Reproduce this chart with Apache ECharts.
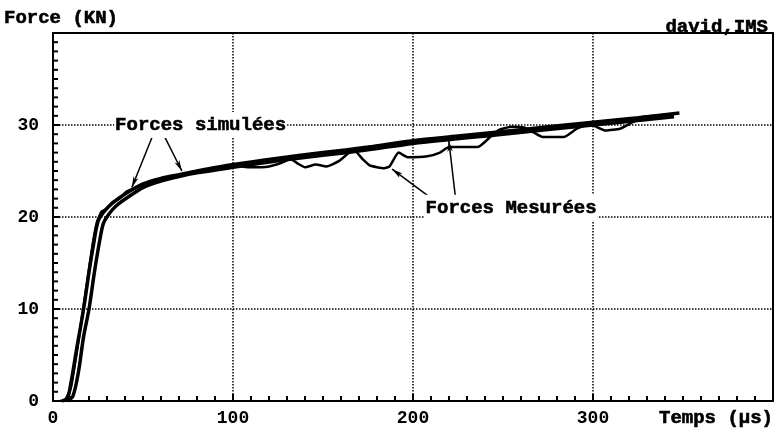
<!DOCTYPE html>
<html>
<head>
<meta charset="utf-8">
<script src="https://cdn.jsdelivr.net/npm/echarts@6/dist/echarts.min.js"></script>
<style>
  html, body { margin: 0; padding: 0; background: #fff; }
  #chart { width: 776px; height: 429px; }
</style>
</head>
<body>
<div id="chart"></div>
<script>
// temps (µs), force (KN)
var simA = [[5,0],[8,0.3],[10,2],[13,5.5],[17,10],[20,14],[22.5,17],[25,19.5],[28,20.5],[33,21.5],[40,22.5],[50,23.6],[60,24.2],[70,24.6],[80,25.0],[100,25.7],[125,26.4],[150,27.0],[175,27.6],[200,28.3],[225,28.8],[250,29.3],[275,29.8],[300,30.3],[325,30.8],[348,31.3]];
var simB = [[8,0],[11,0.5],[14,3],[17,7],[20,10],[23,14],[26,17.5],[28,19.3],[31,20.3],[35,21.2],[42,22.2],[50,23.2],[60,23.9],[70,24.4],[80,24.8],[100,25.4],[125,26.1],[150,26.7],[175,27.3],[200,28.0],[250,29.0],[300,30.0],[345,30.9]];
var mesure = [[4,0],[7,0.2],[10,1.5],[13,5],[16,9],[19,13],[22,17],[24.5,19.5],[27,20.6],[30,20.9],[33,21.6],[37,22.0],[41,22.8],[45,23.1],[50,23.5],[60,24.1],[70,24.5],[80,24.9],[90,25.3],[100,25.6],[110,25.4],[120,25.5],[127,25.9],[132,26.3],[136,25.8],[140,25.4],[146,25.7],[152,25.5],[159,26.1],[167,27.3],[172,26.3],[176,25.6],[184,25.3],[187,25.5],[192,27.0],[197,26.5],[208,26.6],[215,27.0],[220,27.6],[236,27.6],[244,28.9],[248,29.5],[255,29.8],[262,29.7],[267,29.2],[272,28.7],[284,28.7],[291,29.6],[298,30.1],[307,29.4],[315,29.6],[322,30.3],[328,30.9],[335,31.0],[345,31.2]];

// fleches des annotations : [depart, pointe]
var flechesSim = [[[55.7,29.0],[43.8,23.2]], [[61.3,29.0],[71.6,25.0]]];
var flechesMes = [[[209.7,22.1],[188.4,25.2]], [[223.6,22.1],[219.9,28.3]]];

// graduations : pas secondaire et pas principal
var pasX = 10, majX = 100, maxX = 400;
var pasY = 1, majY = 10, maxY = 40;

var police = 'Liberation Mono';

var chart = echarts.init(document.getElementById('chart'));

function fleches(liste) {
  return liste.map(function (f) {
    return [{ coord: f[0] }, { coord: f[1] }];
  });
}

var etiquette = { color: '#000', fontFamily: police, fontWeight: 'bold', fontSize: 18 };

// axe du cadre (haut / droite) : juste la ligne
function axeCadre(max, pos) {
  return {
    type: 'value', min: 0, max: max, position: pos,
    axisLine: { show: true, onZero: false, lineStyle: { color: '#000', width: 2 } },
    axisTick: { show: false }, axisLabel: { show: false }, splitLine: { show: false }
  };
}

var axeX = {
  type: 'value', min: 0, max: maxX, interval: majX, position: 'bottom',
  axisLine: { onZero: false, lineStyle: { color: '#000', width: 2 } },
  axisTick: { show: false },
  splitLine: { show: true, lineStyle: { color: '#000', width: 1.5, type: 'dotted' } },
  axisLabel: Object.assign({ margin: 8, formatter: function (v) { return v === maxX ? '' : v; } }, etiquette)
};
var axeY = {
  type: 'value', min: 0, max: maxY, interval: majY, position: 'left',
  axisLine: { show: true, onZero: false, lineStyle: { color: '#000', width: 2 } },
  axisTick: { show: false },
  splitLine: { show: true, lineStyle: { color: '#000', width: 1.5, type: 'dotted' } },
  axisLabel: Object.assign({ margin: 14, formatter: function (v) { return v === maxY ? '' : v; } }, etiquette)
};

var option = {
  animation: false,
  grid: { left: 53, right: 3, top: 33, bottom: 28 },
  xAxis: [axeX, axeCadre(maxX, 'top')],
  yAxis: [axeY, axeCadre(maxY, 'right')],
  series: [
    {
      name: 'simA', type: 'line', data: simA, symbol: 'none', smooth: 0.3,
      lineStyle: { color: '#000', width: 3.5 },
      markLine: {
        silent: true, symbol: ['none', 'arrow'], symbolSize: [4, 11],
        label: { show: false },
        lineStyle: { color: '#000', width: 1.5, type: 'solid' },
        data: fleches(flechesSim)
      }
    },
    {
      name: 'simB', type: 'line', data: simB, symbol: 'none', smooth: 0.3,
      lineStyle: { color: '#000', width: 3.5 }
    },
    {
      name: 'mesure', type: 'line', data: mesure, symbol: 'none', smooth: 0.15,
      lineStyle: { color: '#000', width: 2.5 },
      markLine: {
        silent: true, symbol: ['none', 'arrow'], symbolSize: [4, 11],
        label: { show: false },
        lineStyle: { color: '#000', width: 1.5, type: 'solid' },
        data: fleches(flechesMes)
      }
    }
  ]
};
chart.setOption(option);

function px(v) { return chart.convertToPixel({ xAxisIndex: 0, yAxisIndex: 0 }, v); }

var pSim = px([82, 30]);
var pMes = px([254.5, 21]);

function texte(x, y, t, align, fond) {
  var st = {
    x: x, y: y, text: t, fill: '#000', align: align, verticalAlign: 'middle',
    font: 'bold 19px "' + police + '"', stroke: '#000', lineWidth: 0.6
  };
  if (fond) { st.backgroundColor = '#fff'; st.padding = [3, 1, 4, 1]; }
  return { type: 'text', z: 100, style: st };
}

// graduations vers l'interieur, placees par l'echelle des axes
function trait(x1, y1, x2, y2) {
  return { type: 'line', z: 50, shape: { x1: x1, y1: y1, x2: x2, y2: y2 },
           style: { stroke: '#000', lineWidth: 2 } };
}
var graduations = [];
for (var t = pasX; t < maxX; t += pasX) {
  var p = px([t, 0]);
  var l = (t % majX === 0) ? 7 : 5;
  graduations.push(trait(p[0], p[1], p[0], p[1] - l));
}
for (var f = pasY; f < maxY; f += pasY) {
  var q = px([0, f]);
  var m = (f % majY === 0) ? 7 : 5;
  graduations.push(trait(q[0], q[1], q[0] + m, q[1]));
}

chart.setOption({
  graphic: graduations.concat([
    texte(4, 18, 'Force (KN)', 'left'),
    texte(768, 27, 'david,IMS', 'right'),
    texte(773, 418, 'Temps (µs)', 'right'),
    texte(pSim[0], pSim[1], 'Forces simulées', 'center', true),
    texte(pMes[0], pMes[1], 'Forces Mesurées', 'center', true)
  ])
});
</script>
</body>
</html>
